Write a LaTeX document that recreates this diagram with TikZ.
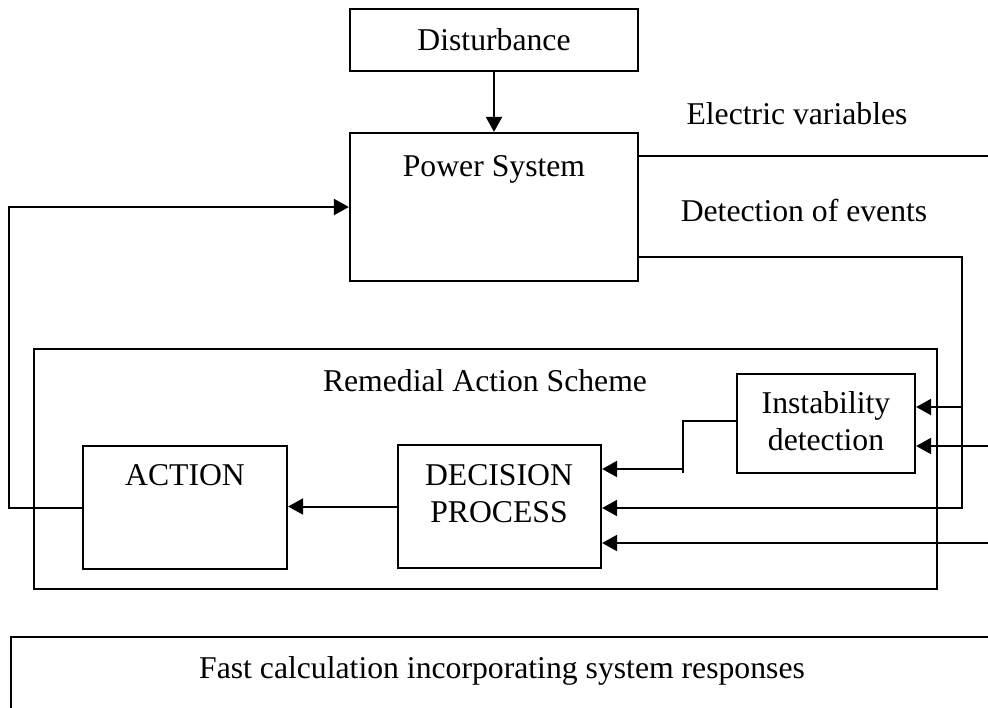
\documentclass[tikz,border=0pt]{standalone}
\usepackage{fontspec}
\setmainfont{Liberation Serif}
\usetikzlibrary{arrows.meta}
\begin{document}
\begin{tikzpicture}[x=1pt,y=-1pt,
  box/.style={draw,line width=2.2pt,rectangle,inner sep=0pt},
  lbl/.style={font=\fontsize{31.7}{37}\selectfont,inner sep=0pt,anchor=base,align=center},
  wire/.style={line width=2pt},
  arr/.style={wire,-{Triangle[length=15pt,width=16pt]}}]
\useasboundingbox (0,0) rectangle (988,707);
\clip (0,0) rectangle (988,707);

% blocks
\node[box,minimum width=288pt,minimum height=62pt]  (dist) at (494,40) {};
\node[box,minimum width=288pt,minimum height=148pt] (ps)   at (494,207) {};
\node[box,minimum width=903pt,minimum height=240pt] (ras)  at (485.5,469) {};
\node[box,minimum width=178pt,minimum height=99pt]  (inst) at (826,423.5) {};
\node[box,minimum width=203pt,minimum height=123pt] (dec)  at (499.5,506.5) {};
\node[box,minimum width=204pt,minimum height=123pt] (act)  at (185,507.5) {};
\node[box,minimum width=1000pt,minimum height=120pt] (fast) at (511,697) {};

% texts (multi-line labels are placed by the baseline of their last line)
\node[lbl] (tdist) at (494,50)  {Disturbance};
\node[lbl] (tps)   at (494,176) {Power System};
\node[lbl] (tev)   at (797,124) {Electric variables};
\node[lbl] (tdet)  at (804,221) {Detection of events};
\node[lbl] (tras)  at (485,391) {Remedial Action Scheme};
\node[lbl] (tinst) at (826,450) {Instability\\detection};
\node[lbl] (tdec)  at (499,522) {DECISION\\PROCESS};
\node[lbl] (tact)  at (185,485) {ACTION};
\node[lbl] (tfast) at (502,678) {Fast calculation incorporating system responses};

% junction and free-end points
\coordinate (ev) at (988,156);
\coordinate (j1) at (962,257);
\coordinate (k1) at (962,407);
\coordinate (k2) at (962,508);
\coordinate (in2) at (988,446);
\coordinate (in3) at (988,543);
\coordinate (s1) at (683,421);
\coordinate (s2) at (683,473);
\coordinate (s3) at (683,469);
\coordinate (f1) at (9,508);
\coordinate (f2) at (9,207);

% connectors
\draw[arr] (dist.south) -- (ps.north);
\draw[wire] (ps.east |- ev) -- (ev);
\draw[arr] (ps.east |- j1) -- (j1) -- (k2) -- (k2 -| dec.east);
\draw[arr] (k1) -- (k1 -| inst.east);
\draw[arr] (in2) -- (in2 -| inst.east);
\draw[arr] (in3) -- (in3 -| dec.east);
\draw[wire] (inst.west |- s1) -- (s1) -- (s2);
\draw[arr] (s3) -- (s3 -| dec.east);
\draw[arr] (dec.west) -- (dec.west -| act.east);
\draw[arr] (act.west |- f1) -- (f1) -- (f2) -- (ps.west);
\end{tikzpicture}
\end{document}
